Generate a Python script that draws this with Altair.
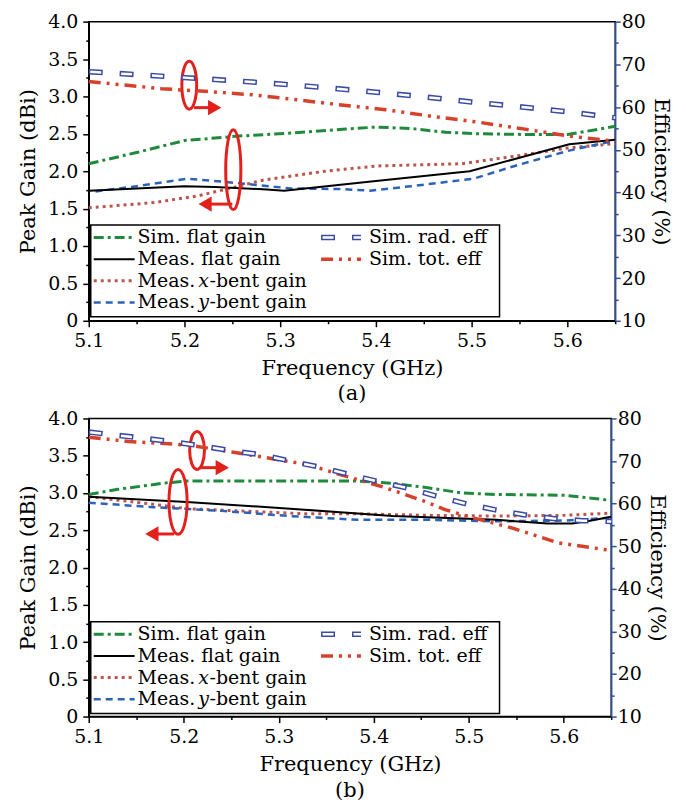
import altair as alt
import pandas as pd

FONT = "DejaVu Serif"

# ---------------- tick values ----------------
x_ticks = [5.10, 5.15, 5.20, 5.25, 5.30, 5.35, 5.40, 5.45, 5.50, 5.55, 5.60, 5.65]
gain_ticks = [0, 0.25, 0.5, 0.75, 1.0, 1.25, 1.5, 1.75, 2.0, 2.25, 2.5, 2.75,
              3.0, 3.25, 3.5, 3.75, 4.0]
eff_ticks = [10, 15, 20, 25, 30, 35, 40, 45, 50, 55, 60, 65, 70, 75, 80]

# ---------------- panel (a) ----------------
a_sim_flat_f = [5.10, 5.15, 5.20, 5.257, 5.311, 5.365, 5.40, 5.437, 5.473, 5.509, 5.563, 5.60, 5.65]
a_sim_flat_g = [2.10, 2.25, 2.41, 2.47, 2.51, 2.56, 2.59, 2.57, 2.52, 2.50, 2.49, 2.49, 2.60]

a_meas_flat_f = [5.10, 5.20, 5.232, 5.286, 5.304, 5.40, 5.498, 5.55, 5.602, 5.65]
a_meas_flat_g = [1.74, 1.80, 1.79, 1.756, 1.74, 1.87, 2.00, 2.18, 2.36, 2.42]

a_xbent_f = [5.10, 5.168, 5.214, 5.247, 5.282, 5.347, 5.401, 5.49, 5.545, 5.60, 5.65]
a_xbent_g = [1.51, 1.58, 1.67, 1.77, 1.88, 2.00, 2.07, 2.10, 2.20, 2.31, 2.37]

a_ybent_f = [5.107, 5.15, 5.203, 5.257, 5.311, 5.365, 5.394, 5.437, 5.502, 5.545, 5.60, 5.65]
a_ybent_g = [1.73, 1.80, 1.90, 1.84, 1.77, 1.76, 1.74, 1.80, 1.90, 2.07, 2.27, 2.41]

a_rad_f = [5.10, 5.15, 5.20, 5.25, 5.30, 5.35, 5.40, 5.45, 5.50, 5.55, 5.60, 5.65]
a_rad_e = [68.3, 67.6, 66.9, 66.2, 65.4, 64.5, 63.5, 62.4, 61.2, 60.1, 58.9, 57.5]

a_tot_f = [5.10, 5.176, 5.221, 5.27, 5.318, 5.364, 5.41, 5.46, 5.506, 5.554, 5.602, 5.65]
a_tot_e = [66.0, 64.3, 63.7, 62.9, 61.7, 60.5, 59.4, 57.8, 56.5, 54.9, 53.2, 52.0]

# annotations (a): ellipse centre (freq, gain), height px, aspect; arrow start/tip freq, gain
a_ell_f = [5.205, 5.251]
a_ell_g = [3.15, 2.02]
a_ell_h = [48, 80]
a_ell_rx = [0.31, 0.19]
a_arr_f0 = [5.210, 5.250]
a_arr_f1 = [5.231, 5.222]
a_arr_g = [2.85, 1.56]
a_arr_dir = ["triangle-right", "triangle-left"]

# ---------------- panel (b) ----------------
b_sim_flat_f = [5.10, 5.131, 5.178, 5.203, 5.384, 5.42, 5.457, 5.493, 5.529, 5.601, 5.65]
b_sim_flat_g = [2.98, 3.05, 3.13, 3.16, 3.16, 3.13, 3.07, 3.00, 2.98, 2.97, 2.90]

b_meas_flat_f = [5.10, 5.203, 5.312, 5.42, 5.529, 5.583, 5.609, 5.625, 5.65]
b_meas_flat_g = [2.95, 2.88, 2.79, 2.69, 2.64, 2.59, 2.59, 2.62, 2.68]

b_xbent_f = [5.10, 5.167, 5.203, 5.258, 5.33, 5.384, 5.457, 5.529, 5.601, 5.65]
b_xbent_g = [2.95, 2.85, 2.79, 2.76, 2.72, 2.72, 2.70, 2.69, 2.70, 2.73]

b_ybent_f = [5.10, 5.167, 5.24, 5.312, 5.384, 5.457, 5.529, 5.601, 5.65]
b_ybent_g = [2.87, 2.81, 2.76, 2.69, 2.64, 2.64, 2.62, 2.63, 2.67]

b_rad_f = [5.10, 5.124, 5.156, 5.189, 5.221, 5.25, 5.281, 5.314, 5.345, 5.375,
           5.406, 5.435, 5.467, 5.498, 5.527, 5.558, 5.589, 5.62, 5.65]
b_rad_e = [76.8, 76.2, 75.4, 74.5, 73.5, 72.4, 71.5, 69.9, 68.5, 66.8,
           65.1, 63.7, 61.7, 59.9, 58.6, 57.4, 56.5, 56.0, 55.8]

b_tot_f = [5.10, 5.142, 5.174, 5.207, 5.268, 5.33, 5.362, 5.41, 5.453, 5.475,
           5.504, 5.547, 5.594, 5.65]
b_tot_e = [75.6, 74.6, 74.2, 73.7, 71.5, 69.2, 67.0, 63.9, 60.6, 58.6,
           56.7, 54.2, 50.8, 49.0]

b_ell_f = [5.214, 5.194]
b_ell_g = [3.57, 2.88]
b_ell_h = [38, 65]
b_ell_rx = [0.39, 0.28]
b_arr_f0 = [5.218, 5.190]
b_arr_f1 = [5.240, 5.167]
b_arr_g = [3.34, 2.45]
b_arr_dir = ["triangle-right", "triangle-left"]

# ---------------- legend ----------------
leg_col1 = ["Sim. flat gain", "Meas. flat gain", "Meas. x-bent gain", "Meas. y-bent gain"]
leg_col2 = ["Sim. rad. eff", "Sim. tot. eff"]
LEG_FS = 19

STY = {
    "sim_flat": dict(color="#1f8a3c", strokeDash=[10, 4, 3, 4], strokeWidth=3),
    "meas_flat": dict(color="#000000", strokeWidth=2),
    "xbent": dict(color="#b9574f", strokeDash=[3, 4], strokeWidth=3),
    "ybent": dict(color="#2b63b8", strokeDash=[7, 5], strokeWidth=2.5),
    "rad_out": dict(color="#3a4aa5", strokeDash=[14, 17], strokeWidth=5.5),
    "rad_in": dict(color="#ffffff", strokeDash=[11, 20], strokeDashOffset=-1.5, strokeWidth=2.5),
    "tot": dict(color="#d6412c", strokeDash=[12, 6, 3, 6, 3, 6], strokeWidth=3.5),
}


def make_x(label_pad, title_pad):
    return alt.X("freq:Q", scale=alt.Scale(domain=[5.1, 5.65], nice=False, zero=False),
                 axis=alt.Axis(values=x_ticks, title="Frequency (GHz)",
                               labelExpr="round(datum.value*100) % 10 == 0 ? format(datum.value, '.1f') : ''",
                               tickSize={"condition": {"test": "round(datum.value*100) % 10 == 0", "value": 6}, "value": 3},
                               labelFlush=False, labelOverlap=False, grid=False,
                               labelPadding=label_pad, titlePadding=title_pad,
                               domainColor="black", tickColor="black"))


GAIN_Y = alt.Y("gain:Q", scale=alt.Scale(domain=[0, 4], nice=False, zero=False),
               axis=alt.Axis(values=gain_ticks, orient="left", title="Peak Gain (dBi)",
                             labelExpr="datum.value == 0 ? '0' : (round(datum.value*100) % 50 == 0 ? format(datum.value, '.1f') : '')",
                             tickSize={"condition": {"test": "round(datum.value*100) % 50 == 0", "value": 6}, "value": 3},
                             labelOverlap=False, grid=False, labelPadding=5, titlePadding=9,
                             domainColor="black", tickColor="black"))

EFF_Y = alt.Y("eff:Q", scale=alt.Scale(domain=[10, 80], nice=False, zero=False),
              axis=alt.Axis(values=eff_ticks, orient="right", title="Efficiency (%)",
                            labelExpr="datum.value % 10 == 0 ? format(datum.value, 'd') : ''",
                            tickSize={"condition": {"test": "datum.value % 10 == 0", "value": 5}, "value": 3},
                            labelOverlap=False, grid=False, labelPadding=1, titlePadding=5,
                            domainColor="#2f4f9f", tickColor="#2f4f9f"))

PX = alt.X("px:Q", scale=None, axis=None)
PX2 = alt.X2("px2:Q")
PY = alt.Y("py:Q", scale=None, axis=None)
PY2 = alt.Y2("py2:Q")


def line(X, f, v, field, style):
    df = pd.DataFrame({"freq": f, field: v})
    y = GAIN_Y if field == "gain" else EFF_Y
    return alt.Chart(df).mark_line(strokeCap="butt", strokeJoin="round", **STY[style]).encode(x=X, y=y)


def legend_layers():
    row_y = [216.5, 238.2, 259.9, 281.6]
    box = pd.DataFrame({"px": [2], "px2": [412], "py": [204], "py2": [296]})
    layers = [alt.Chart(box).mark_rect(fill="white", stroke="black", strokeWidth=1.5)
              .encode(x=PX, x2=PX2, y=PY, y2=PY2)]
    samples = [("sim_flat", 5, 46, row_y[0]), ("meas_flat", 5, 46, row_y[1]),
               ("xbent", 5, 46, row_y[2]), ("ybent", 5, 46, row_y[3]),
               ("rad_out", 233, 273, row_y[0]), ("rad_in", 233, 273, row_y[0]),
               ("tot", 233, 273, row_y[1])]
    for sty, x0, x1, yy in samples:
        d = pd.DataFrame({"px": [x0], "px2": [x1], "py": [yy]})
        layers.append(alt.Chart(d).mark_rule(strokeCap="butt", **STY[sty]).encode(x=PX, x2=PX2, y=PY))
    tx = 49
    w_meas = 3.2 * LEG_FS     # width of "Meas. " in the legend font
    w_it = 0.60 * LEG_FS      # width of the italic letter
    normal = pd.DataFrame({
        "t": [leg_col1[0], leg_col1[1], "Meas.", "-bent gain", "Meas.", "-bent gain",
              leg_col2[0], leg_col2[1]],
        "px": [tx, tx, tx, tx + w_meas + w_it, tx, tx + w_meas + w_it, 281, 281],
        "py": [row_y[0], row_y[1], row_y[2], row_y[2], row_y[3], row_y[3], row_y[0], row_y[1]],
    })
    ital = pd.DataFrame({"t": ["x", "y"], "px": [tx + w_meas, tx + w_meas], "py": [row_y[2], row_y[3]]})
    layers.append(alt.Chart(normal).mark_text(align="left", baseline="middle", font=FONT,
                                              fontSize=LEG_FS, color="black")
                  .encode(x=PX, y=PY, text="t:N"))
    layers.append(alt.Chart(ital).mark_text(align="left", baseline="middle", font=FONT,
                                            fontSize=LEG_FS, fontStyle="italic", color="black")
                  .encode(x=PX, y=PY, text="t:N"))
    return layers


def annotations(X, ef, eg, eh, erx, f0, f1, ag, adir):
    ell = pd.DataFrame({
        "freq": ef, "gain": eg, "sz": [h * h for h in eh],
        "shp": [f"M0,-1A{rx},1 0 1,1 0,1A{rx},1 0 1,1 0,-1Z" for rx in erx],
    })
    e = alt.Chart(ell).mark_point(filled=False, stroke="#e3201b", strokeWidth=3, opacity=1).encode(
        x=X, y=GAIN_Y, size=alt.Size("sz:Q", scale=None), shape=alt.Shape("shp:N", scale=None))
    arr = pd.DataFrame({"freq": f0, "f1": f1, "gain": ag})
    r = alt.Chart(arr).mark_rule(stroke="#e3201b", strokeWidth=3).encode(
        x=X, x2=alt.X2("f1:Q"), y=GAIN_Y)
    head = pd.DataFrame({"freq": f1, "gain": ag, "shp": adir})
    h = alt.Chart(head).mark_point(filled=True, fill="#e3201b", stroke="#e3201b", size=140, opacity=1).encode(
        x=X, y=GAIN_Y, shape=alt.Shape("shp:N", scale=None))
    return [e, r, h]


def panel(sf, sg, mf, mg, xf, xg, yf, yg, rf, re_, tf, te, ann_data, w, h, cap,
          label_pad, title_pad, cap_off):
    X = make_x(label_pad, title_pad)
    gain_layer = alt.layer(
        line(X, sf, sg, "gain", "sim_flat"),
        line(X, xf, xg, "gain", "xbent"),
        line(X, yf, yg, "gain", "ybent"),
        line(X, mf, mg, "gain", "meas_flat"),
        *annotations(X, *ann_data),
    )
    eff_layer = alt.layer(
        line(X, tf, te, "eff", "tot"),
        line(X, rf, re_, "eff", "rad_out"),
        line(X, rf, re_, "eff", "rad_in"),
    )
    leg = alt.layer(*legend_layers())
    return alt.layer(gain_layer, eff_layer, leg).resolve_scale(y="independent").properties(
        width=w, height=h,
        title=alt.TitleParams(cap, orient="bottom", font=FONT, fontSize=21, fontWeight="normal",
                              offset=cap_off, anchor="middle", color="black"))


pa = panel(a_sim_flat_f, a_sim_flat_g, a_meas_flat_f, a_meas_flat_g, a_xbent_f, a_xbent_g,
           a_ybent_f, a_ybent_g, a_rad_f, a_rad_e, a_tot_f, a_tot_e,
           (a_ell_f, a_ell_g, a_ell_h, a_ell_rx, a_arr_f0, a_arr_f1, a_arr_g, a_arr_dir),
           528, 300, "(a)", 4.5, 7, 5)
pb = panel(b_sim_flat_f, b_sim_flat_g, b_meas_flat_f, b_meas_flat_g, b_xbent_f, b_xbent_g,
           b_ybent_f, b_ybent_g, b_rad_f, b_rad_e, b_tot_f, b_tot_e,
           (b_ell_f, b_ell_g, b_ell_h, b_ell_rx, b_arr_f0, b_arr_f1, b_arr_g, b_arr_dir),
           524, 299, "(b)", 5.5, 7, 5)

chart = alt.vconcat(pa, pb, spacing=3).properties(
    padding={"left": 9, "top": 2.5, "right": 6, "bottom": 0},
    background="white",
).configure_view(stroke="black", strokeWidth=1.5).configure_axis(
    labelFont=FONT, titleFont=FONT, labelFontSize=19, titleFontSize=21,
    titleFontWeight="normal", labelColor="black", titleColor="black",
    domainWidth=1.5, tickWidth=1.5,
)

chart.save("out.html", embed_options={"renderer": "svg", "actions": False})
